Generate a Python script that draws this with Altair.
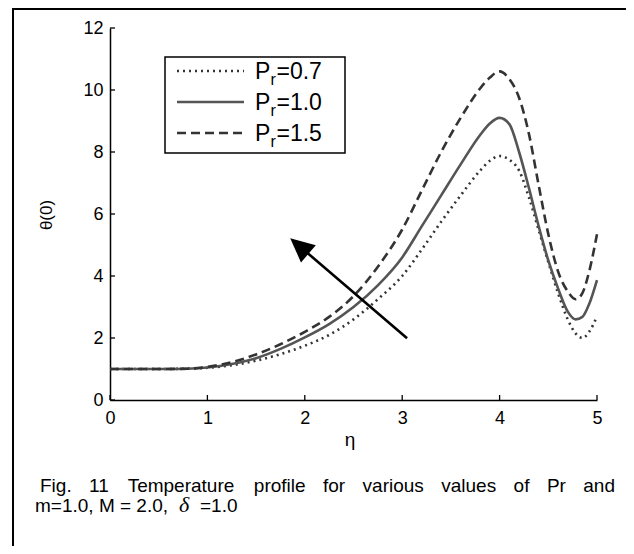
import math
import altair as alt
import pandas as pd

# ---------------- data ----------------
eta = [0.0, 0.5, 0.8, 1.0, 1.25, 1.5, 1.75, 2.0, 2.25, 2.5, 2.75, 3.0, 3.2, 3.4, 3.6,
       3.8, 3.9, 4.0, 4.1, 4.2, 4.3, 4.4, 4.5, 4.6, 4.7, 4.78, 4.85, 4.92, 5.0]
theta_pr07 = [1.0, 1.0, 1.01, 1.04, 1.12, 1.27, 1.48, 1.75, 2.1, 2.6, 3.25, 4.0, 4.85, 5.75, 6.6,
              7.4, 7.72, 7.87, 7.75, 7.4, 6.55, 5.5, 4.45, 3.45, 2.6, 2.15, 2.0, 2.2, 2.7]
theta_pr10 = [1.0, 1.0, 1.01, 1.05, 1.16, 1.35, 1.65, 2.02, 2.45, 3.0, 3.7, 4.6, 5.6, 6.6, 7.6,
              8.55, 8.92, 9.1, 8.9, 8.0, 6.85, 5.62, 4.5, 3.6, 2.85, 2.6, 2.68, 3.1, 3.87]
theta_pr15 = [1.0, 1.0, 1.01, 1.07, 1.22, 1.47, 1.8, 2.2, 2.68, 3.35, 4.3, 5.5, 6.75, 8.0, 9.1,
              10.05, 10.4, 10.6, 10.35, 9.75, 8.6, 6.95, 5.35, 4.15, 3.5, 3.25, 3.45, 4.15, 5.35]
series_names = ["0.7", "1.0", "1.5"]

x_ticks = [0, 1, 2, 3, 4, 5]
y_ticks = [0, 2, 4, 6, 8, 10, 12]

arrow_eta = [3.05, 1.85]     # tail, tip
arrow_theta = [1.99, 5.22]

caption1 = ["Fig.", "11", "Temperature", "profile", "for", "various", "values", "of", "Pr", "and"]

# ---------------- layout ----------------
W, H = 487, 372
FONT = "Liberation Sans"
px_eta = W / 5.0
px_theta = H / 12.0

rows = []
for name, th in zip(series_names, [theta_pr07, theta_pr10, theta_pr15]):
    for e, t in zip(eta, th):
        rows.append({"eta": e, "theta": t, "Pr": name})
df = pd.DataFrame(rows)

xs = alt.Scale(domain=[0, 5], nice=False, zero=False)
ys = alt.Scale(domain=[0, 12], nice=False, zero=False)

xaxis = alt.Axis(values=x_ticks, format="d", title=None, grid=False, tickSize=0,
                 labelFont=FONT, labelFontSize=18, labelColor="black", labelPadding=9,
                 domainColor="black", domainWidth=1.5, labelFlush=False)
yaxis = alt.Axis(values=y_ticks, format="d", title=None, grid=False, tickSize=0,
                 labelFont=FONT, labelFontSize=18, labelColor="black", labelPadding=7,
                 domainColor="black", domainWidth=1.5, labelFlush=False)


def X(field):
    return alt.X(field, type="quantitative", scale=xs, axis=xaxis)


def Y(field):
    return alt.Y(field, type="quantitative", scale=ys, axis=yaxis)


base = alt.Chart(df)
styles = {"0.7": dict(strokeDash=[2, 4], color="#333333"),
          "1.0": dict(color="#555555"),
          "1.5": dict(strokeDash=[9, 5], color="#333333")}

lines = []
for name in series_names:
    lines.append(base.transform_filter(alt.datum.Pr == name)
                 .mark_line(strokeWidth=2.6, interpolate="monotone", **styles[name])
                 .encode(x=X("eta"), y=Y("theta")))

one = alt.Data(values=[{"k": 0}])


def txt(s, x, y, size=17, align="left", baseline="alphabetic", **kw):
    return alt.Chart(one).mark_text(text=s, fontSize=size, font=kw.pop("font", FONT),
                                    color="black", align=align, baseline=baseline, **kw
                                    ).encode(x=alt.value(x), y=alt.value(y))


def hrule(x1, x2, y, **kw):
    return alt.Chart(one).mark_rule(**kw).encode(x=alt.value(x1), x2=alt.value(x2), y=alt.value(y))


def vrule(x, y1, y2, **kw):
    return alt.Chart(one).mark_rule(**kw).encode(x=alt.value(x), y=alt.value(y1), y2=alt.value(y2))


layers = []
# outer frame (left and top)
layers.append(vrule(-97, -20, 520, color="black", strokeWidth=2))
layers.append(hrule(-97, 530, -19, color="black", strokeWidth=2))

# inward ticks
xt = alt.Chart(pd.DataFrame({"eta": x_ticks})).mark_rule(color="black", strokeWidth=1.3).encode(
    x=X("eta"), y=alt.value(H), y2=alt.value(H - 5))
yt = alt.Chart(pd.DataFrame({"theta": y_ticks})).mark_rule(color="black", strokeWidth=1.3).encode(
    y=Y("theta"), x=alt.value(0), x2=alt.value(5))
layers += [xt, yt]
layers += lines

# legend
leg_x1, leg_x2, leg_y1, leg_y2 = 55, 235, 29, 125
layers.append(alt.Chart(one).mark_rect(fill="white", stroke="black", strokeWidth=1.5).encode(
    x=alt.value(leg_x1), x2=alt.value(leg_x2), y=alt.value(leg_y1), y2=alt.value(leg_y2)))
row_y = [43, 74, 105]
for name, ry in zip(series_names, row_y):
    st = styles[name]
    layers.append(hrule(67, 134, ry, strokeWidth=2.6, **st))
    layers.append(txt("P", 145, ry + 8, size=23))
    layers.append(txt("r", 160.5, ry + 14, size=16))
    layers.append(txt("=" + name, 166.5, ry + 8, size=23))

# arrow
dxp = (arrow_eta[0] - arrow_eta[1]) * px_eta
dyp = (arrow_theta[1] - arrow_theta[0]) * px_theta
L = math.hypot(dxp, dyp)
ux, uy = dxp / L, dyp / L
head_r = 12
hc_eta = arrow_eta[1] + head_r * ux / px_eta
hc_theta = arrow_theta[1] - head_r * uy / px_theta
ang = math.degrees(math.atan2(-dxp, dyp)) % 360
arrow_df = pd.DataFrame({"eta": [arrow_eta[0]], "theta": [arrow_theta[0]],
                         "eta2": [hc_eta], "theta2": [hc_theta]})
layers.append(alt.Chart(arrow_df).mark_rule(color="black", strokeWidth=2.6).encode(
    x=X("eta"), y=Y("theta"), x2="eta2:Q", y2="theta2:Q"))
layers.append(alt.Chart(arrow_df).mark_point(
    shape="M0,-1L-0.95,1L0.95,1Z", filled=True, color="black", opacity=1,
    size=(2 * head_r) ** 2, angle=ang, strokeWidth=0).encode(
    x=X("eta2"), y=Y("theta2")))

# axis titles
layers.append(txt("η", 240, 412, size=19, align="center", baseline="middle"))
layers.append(txt("θ(0)", -63, 187, size=17, align="center", baseline="middle", angle=270))

# caption, justified first line
AW = {"F": 611, "i": 222, "g": 556, ".": 278, "1": 556, "T": 611, "e": 556, "m": 833, "p": 556,
      "r": 333, "a": 556, "t": 278, "u": 556, "o": 556, "f": 278, "l": 222, "v": 500, "s": 500,
      "P": 667, "n": 556, "d": 556}
cap_size = 19
widths = [sum(AW.get(c, 556) for c in w) * cap_size / 1000 for w in caption1]
left, right = 40 - 110, 615 - 110
gap = (right - left - sum(widths)) / (len(caption1) - 1)
xpos = left
for w, wd in zip(caption1, widths):
    layers.append(txt(w, xpos, 464, size=cap_size))
    xpos += wd + gap
layers.append(txt("m=1.0, M = 2.0,", -75, 484, size=cap_size))
layers.append(txt("δ", 69, 484, size=22, font="Liberation Serif", fontStyle="italic"))
layers.append(txt("=1.0", 90, 484, size=cap_size))

chart = alt.layer(*layers).properties(
    width=W, height=H, autosize="none",
    padding={"left": 102, "top": 20, "right": 29, "bottom": 146},
).configure_view(stroke=None)

chart.save("out.html", embed_options={"renderer": "svg", "actions": False})
